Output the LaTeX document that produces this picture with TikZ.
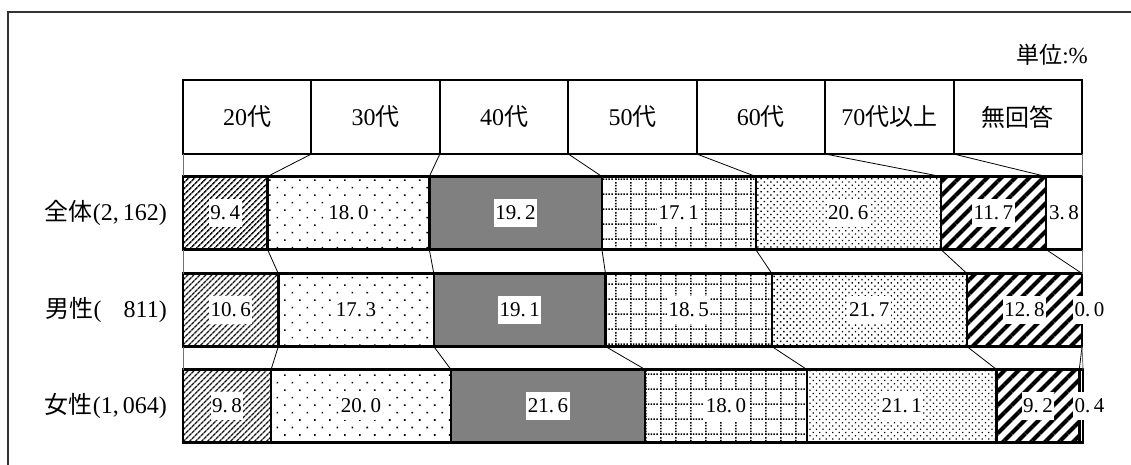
\documentclass[tikz,border=0pt]{standalone}
\usepackage{fontspec}
\setmainfont{Liberation Serif}
\newfontfamily\jp{Noto Sans CJK JP}
\usetikzlibrary{patterns.meta}

\tikzdeclarepattern{
  name=griddots,
  type=uncolored,
  bottom left={(0pt,0pt)},
  top right={(15pt,15pt)},
  tile size={(15pt,15pt)},
  code={
    \foreach \k in {0pt,3pt,6pt,9pt,12pt} {
      \fill (0pt,\k) rectangle ++(1.6pt,1.6pt);
      \fill (\k,0pt) rectangle ++(1.6pt,1.6pt);
    }
  }
}

\begin{document}
\begin{tikzpicture}[x=1pt,y=-1pt,
    hd/.style={draw,line width=2pt,minimum width=128.43,minimum height=74,inner sep=0,outer sep=0,anchor=west,font=\fontsize{24}{28}\selectfont},
    seg/.style={draw,line width=2.4pt,minimum height=73,inner sep=0,outer sep=0,anchor=west},
    val/.style={fill=white,inner sep=1.5pt,minimum height=28,font=\fontsize{21}{24}\selectfont},
    rowlab/.style={anchor=east,inner sep=0,font=\fontsize{24}{28}\selectfont},
    link/.style={line width=0.8pt},
    rim/.style={line width=0.9pt,black!55},
    p20/.style={pattern={Lines[angle=45,distance=4pt,line width=1.6pt]},pattern color=black!90},
    p30/.style={pattern={Dots[angle=45,distance=10.6pt,radius=1.1pt]}},
    p40/.style={fill=black!50},
    p50/.style={pattern=griddots},
    p60/.style={pattern={Dots[angle=45,distance=4.6pt,radius=0.95pt]}},
    p70/.style={pattern={Lines[angle=45,distance=9.9pt,line width=4pt]}}]
  \useasboundingbox (0,0) rectangle (1131,465);
  \draw[line width=1.3pt,black!80] (1140,12) -- (8,12) -- (8,475);

  % header
  \node[hd] (h1) at (183,117) {20{\jp 代}};
  \node[hd] (h2) at (311.43,117) {30{\jp 代}};
  \node[hd] (h3) at (439.86,117) {40{\jp 代}};
  \node[hd] (h4) at (568.29,117) {50{\jp 代}};
  \node[hd] (h5) at (696.71,117) {60{\jp 代}};
  \node[hd] (h6) at (825.14,117) {70{\jp 代以上}};
  \node[hd] (h7) at (953.57,117) {{\jp 無回答}};
  \node[anchor=east,inner sep=0,font=\fontsize{23}{27}\selectfont] (unit) at (1088,55) {{\jp 単位}:\%};

  % row labels
  \node[rowlab] (r1) at (167,213) {{\jp 全体}(2,\,162)};
  \node[rowlab] (r2) at (167,310) {{\jp 男性}(\phantom{1,\,}811)};
  \node[rowlab] (r3) at (167,406) {{\jp 女性}(1,\,064)};

  % all
  \node[seg,p20,minimum width=84.5] (a1) at (183,213) {};
  \node[seg,p30,minimum width=161.8] (a2) at (267.5,213) {};
  \node[seg,p40,minimum width=172.6] (a3) at (429.3,213) {};
  \node[seg,p50,minimum width=153.8] (a4) at (601.9,213) {};
  \node[seg,p60,minimum width=185.2] (a5) at (755.7,213) {};
  \node[seg,p70,minimum width=105.1] (a6) at (940.9,213) {};
  \node[seg,minimum width=36] (a7) at (1046,213) {};
  \node[val] (a1v) at (a1) {9.\,4};
  \node[val] (a2v) at (a2) {18.\,0};
  \node[val] (a3v) at (a3) {19.\,2};
  \node[val] (a4v) at (a4) {17.\,1};
  \node[val] (a5v) at (a5) {20.\,6};
  \node[val] (a6v) at (a6) {11.\,7};
  \node[val] (a7v) at (a7) {3.\,8};

  % male
  \node[seg,p20,minimum width=95.3] (b1) at (183,310) {};
  \node[seg,p30,minimum width=155.5] (b2) at (278.3,310) {};
  \node[seg,p40,minimum width=171.7] (b3) at (433.8,310) {};
  \node[seg,p50,minimum width=166.3] (b4) at (605.5,310) {};
  \node[seg,p60,minimum width=195.1] (b5) at (771.8,310) {};
  \node[seg,p70,minimum width=115.1] (b6) at (966.9,310) {};
  \node[seg,minimum width=0] (b7) at (1082,310) {};
  \node[val] (b1v) at (b1) {10.\,6};
  \node[val] (b2v) at (b2) {17.\,3};
  \node[val] (b3v) at (b3) {19.\,1};
  \node[val] (b4v) at (b4) {18.\,5};
  \node[val] (b5v) at (b5) {21.\,7};
  \node[val] (b6v) at (b6) {12.\,8};
  \node[val,anchor=west] (b7v) at (1073,310) {0.\,0};

  % female
  \node[seg,p20,minimum width=88.1] (c1) at (183,406) {};
  \node[seg,p30,minimum width=179.8] (c2) at (271.1,406) {};
  \node[seg,p40,minimum width=194.2] (c3) at (450.9,406) {};
  \node[seg,p50,minimum width=161.8] (c4) at (645.1,406) {};
  \node[seg,p60,minimum width=189.7] (c5) at (806.9,406) {};
  \node[seg,p70,minimum width=82.7] (c6) at (996.6,406) {};
  \node[seg,minimum width=3.7] (c7) at (1079.3,406) {};
  \node[val] (c1v) at (c1) {9.\,8};
  \node[val] (c2v) at (c2) {20.\,0};
  \node[val] (c3v) at (c3) {21.\,6};
  \node[val] (c4v) at (c4) {18.\,0};
  \node[val] (c5v) at (c5) {21.\,1};
  \node[val] (c6v) at (c6) {9.\,2};
  \node[val,anchor=west] (c7v) at (1073,406) {0.\,4};

  % connectors
  \draw[rim] (h1.south west) -- (a1.north west);
  \draw[link] (h1.south east) -- (a1.north east);
  \draw[link] (h2.south east) -- (a2.north east);
  \draw[link] (h3.south east) -- (a3.north east);
  \draw[link] (h4.south east) -- (a4.north east);
  \draw[link] (h5.south east) -- (a5.north east);
  \draw[link] (h6.south east) -- (a6.north east);
  \draw[rim] (h7.south east) -- (a7.north east);

  \draw[rim] (a1.south west) -- (b1.north west);
  \draw[link] (a1.south east) -- (b1.north east);
  \draw[link] (a2.south east) -- (b2.north east);
  \draw[link] (a3.south east) -- (b3.north east);
  \draw[link] (a4.south east) -- (b4.north east);
  \draw[link] (a5.south east) -- (b5.north east);
  \draw[link] (a6.south east) -- (b6.north east);
  \draw[rim] (a7.south east) -- (b7.north east);

  \draw[rim] (b1.south west) -- (c1.north west);
  \draw[link] (b1.south east) -- (c1.north east);
  \draw[link] (b2.south east) -- (c2.north east);
  \draw[link] (b3.south east) -- (c3.north east);
  \draw[link] (b4.south east) -- (c4.north east);
  \draw[link] (b5.south east) -- (c5.north east);
  \draw[link] (b6.south east) -- (c6.north east);
  \draw[rim] (b7.south east) -- (c7.north east);
\end{tikzpicture}
\end{document}
